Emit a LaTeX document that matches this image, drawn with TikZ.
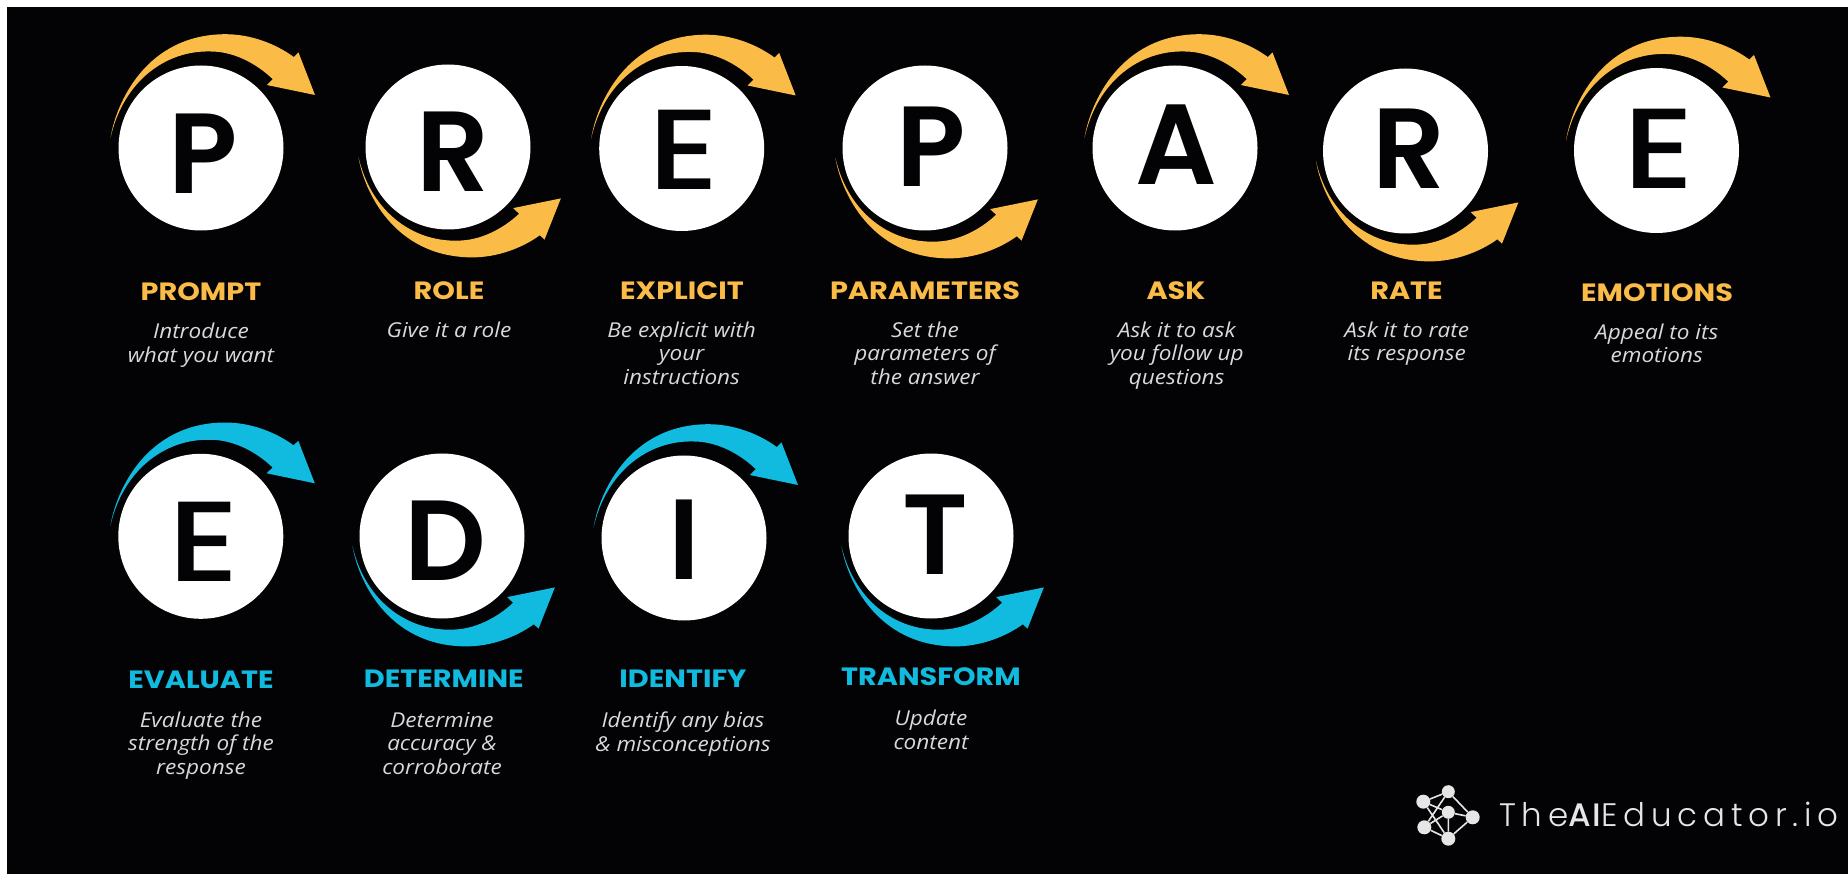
\documentclass[tikz,border=0pt]{standalone}
\usepackage{fontspec}
\setmainfont{Poppins}
\newfontfamily\letterfont{Poppins SemiBold}
\newfontfamily\widefont[FakeStretch=1.19]{Poppins Medium}
\newfontfamily\headfont[FakeStretch=1.15]{Poppins Bold}
\newfontfamily\bodyfont[FakeStretch=1.1]{Open Sans Italic}
\newfontfamily\logofont[LetterSpace=18]{Poppins Light}
\newfontfamily\logobold[LetterSpace=4]{Poppins Medium}
\definecolor{bgk}{HTML}{030305}
\definecolor{amber}{HTML}{FBBB47}
\definecolor{cyanblue}{HTML}{10BBDF}
\definecolor{bodygrey}{HTML}{D9D9D9}
\definecolor{logogrey}{HTML}{E6E6E6}
\tikzset{
  x=1pt,y=-1pt,
  swoosh/.pic={
    \fill[pic actions] (-90.5,-10) .. controls (-85,-45) and (-55,-113) .. (23.5,-113.8)
      .. controls (50,-114) and (75,-104) .. (92.8,-91)
      -- (97.5,-95.5) -- (114,-53) -- (65.8,-63) -- (71.8,-68.8)
      .. controls (55,-85) and (32,-96.5) .. (10,-96.5)
      .. controls (-36,-98) and (-78,-66) .. (-90.5,-10) -- cycle;
  },
  flipped/.style={yscale=-0.97,xscale=0.99},
  disc/.style={circle,fill=white,minimum size=165pt,inner sep=0pt},
  glyph/.style={anchor=base,inner sep=0pt,text=bgk,font=\letterfont\fontsize{114}{114}\selectfont},
  wideglyph/.style={glyph,font=\widefont\fontsize{114}{114}\selectfont},
  headamber/.style={inner sep=0pt,text=amber,font=\headfont\fontsize{25}{25}\selectfont},
  headcyan/.style={inner sep=0pt,text=cyanblue,font=\headfont\fontsize{25}{25}\selectfont},
  blurb/.style={anchor=north,inner sep=0pt,align=center,text=bodygrey,
    font=\bodyfont\fontsize{20.5}{23.3}\selectfont,execute at begin node={\rule{0pt}{16pt}}},
  logodot/.style={circle,fill=logogrey,inner sep=0pt,minimum size=14pt},
  logoline/.style={draw=logogrey,line width=1.6pt},
}
\begin{document}
\begin{tikzpicture}
\useasboundingbox (0,0) rectangle (1848,874);
\fill[white] (0,0) rectangle (1848,874);
\fill[bgk] (7,7) rectangle (1848,874);
% swooshes
\pic[fill=amber] at (201,148) {swoosh};
\pic[fill=amber,flipped] at (448,147) {swoosh};
\pic[fill=amber] at (681.7,148.5) {swoosh};
\pic[fill=amber,flipped] at (925,148) {swoosh};
\pic[fill=amber] at (1175,148) {swoosh};
\pic[fill=amber,flipped] at (1405.5,151) {swoosh};
\pic[fill=amber] at (1656.5,150.5) {swoosh};
\pic[fill=cyanblue] at (200.8,536.3) {swoosh};
\pic[fill=cyanblue,flipped] at (442,536) {swoosh};
\pic[fill=cyanblue] at (684,538) {swoosh};
\pic[fill=cyanblue,flipped] at (931,536) {swoosh};
% discs
\node[disc] (d1) at (201,148) {};
\node[disc] (d2) at (448,147) {};
\node[disc] (d3) at (681.7,148.5) {};
\node[disc] (d4) at (925,148) {};
\node[disc] (d5) at (1175,148) {};
\node[disc] (d6) at (1405.5,151) {};
\node[disc] (d7) at (1656.5,150.5) {};
\node[disc] (d8) at (200.8,536.3) {};
\node[disc] (d9) at (442,536) {};
\node[disc] (d10) at (684,538) {};
\node[disc] (d11) at (931,536) {};
% letters
\node[glyph] (g1) at (203.5,193.3) {P};
\node[glyph] (g2) at (452.8,191.3) {R};
\node[wideglyph] (g3) at (684.5,190) {E};
\node[glyph] (g4) at (931,186.7) {P};
\node[glyph] (g5) at (1176,185) {A};
\node[glyph] (g6) at (1409.5,189) {R};
\node[wideglyph] (g7) at (1658.7,188.7) {E};
\node[wideglyph] (g8) at (203.7,581.7) {E};
\node[glyph] (g9) at (445.6,580) {D};
\node[glyph] (g10) at (684,579) {I};
\node[glyph] (g11) at (935.5,574.6) {T};
% headings
\node[headamber] (h1) at (201,292) {PROMPT};
\node[headamber] (h2) at (449,291) {ROLE};
\node[headamber] (h3) at (682,290.5) {EXPLICIT};
\node[headamber] (h4) at (925,290.5) {PARAMETERS};
\node[headamber] (h5) at (1176,290.5) {ASK};
\node[headamber] (h6) at (1406.5,290.5) {RATE};
\node[headamber] (h7) at (1657,292.5) {EMOTIONS};
\node[headcyan] (h8) at (201,680.3) {EVALUATE};
\node[headcyan] (h9) at (443.8,679) {DETERMINE};
\node[headcyan] (h10) at (683,679) {IDENTIFY};
\node[headcyan] (h11) at (931,677) {TRANSFORM};
% descriptions
\node[blurb] (b1) at (201,323) {Introduce\\what you want};
\node[blurb] (b2) at (449,321.7) {Give it a role};
\node[blurb] (b3) at (681.7,321.7) {Be explicit with\\your\\instructions};
\node[blurb] (b4) at (925,321.7) {Set the\\parameters of\\the answer};
\node[blurb] (b5) at (1176.7,321.7) {Ask it to ask\\you follow up\\questions};
\node[blurb] (b6) at (1406.7,321.7) {Ask it to rate\\its response};
\node[blurb] (b7) at (1656.7,323.3) {Appeal to its\\emotions};
\node[blurb] (b8) at (201,711.7) {Evaluate the\\strength of the\\response};
\node[blurb] (b9) at (442,712.3) {Determine\\accuracy \&\\corroborate};
\node[blurb] (b10) at (683,712) {Identify any bias\\\& misconceptions};
\node[blurb] (b11) at (931,710) {Update\\content};
% logo
\node[logodot] (n1) at (1423.3,801.7) {};
\node[logodot,minimum size=13pt] (n2) at (1448.3,791.7) {};
\node[logodot,minimum size=13pt] (n3) at (1448.3,812.3) {};
\node[logodot] (n4) at (1472.7,817.3) {};
\node[logodot] (n5) at (1424.3,827.3) {};
\node[logodot] (n6) at (1448.3,838.7) {};
\draw[logoline] (n1)--(n2) (n1)--(n3) (n2)--(n4) (n3)--(n4) (n1)--(n6)
  (n5)--(n2) (n5)--(n3) (n5)--(n6) (n3)--(n6) (n4)--(n6);
\node[anchor=base west,inner sep=0pt,text=logogrey] (logo) at (1499,826)
  {\fontsize{32.5}{32.5}\selectfont\logofont The{\logobold AI}Educator.io};
\end{tikzpicture}
\end{document}
